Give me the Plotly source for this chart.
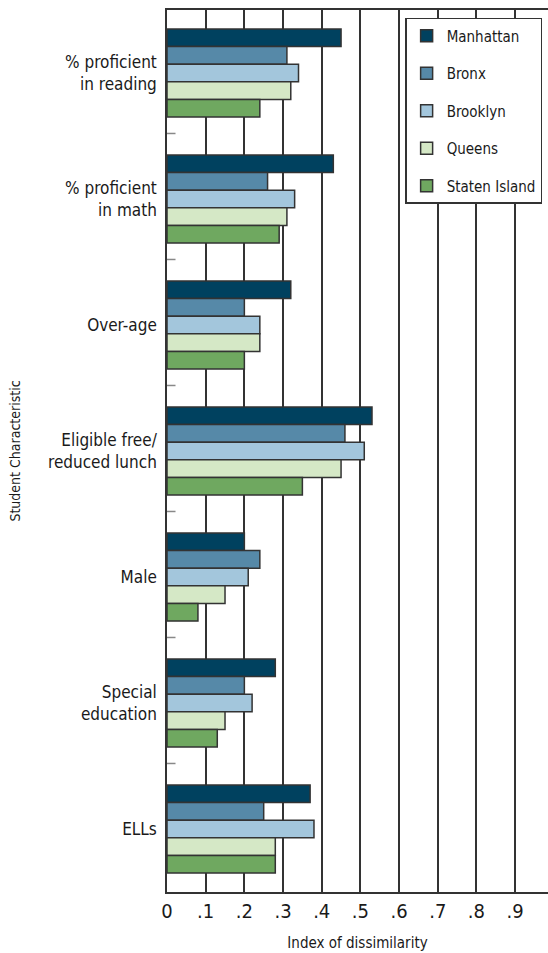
import plotly.graph_objects as go

# data
categories = ["% proficient<br>in reading", "% proficient<br>in math", "Over-age",
              "Eligible free/<br>reduced lunch", "Male", "Special<br>education", "ELLs"]
boroughs = ["Manhattan", "Bronx", "Brooklyn", "Queens", "Staten Island"]

manhattan = [0.45, 0.43, 0.32, 0.53, 0.20, 0.28, 0.37]
bronx = [0.31, 0.26, 0.20, 0.46, 0.24, 0.20, 0.25]
brooklyn = [0.34, 0.33, 0.24, 0.51, 0.21, 0.22, 0.38]
queens = [0.32, 0.31, 0.24, 0.45, 0.15, 0.15, 0.28]
staten_island = [0.24, 0.29, 0.20, 0.35, 0.08, 0.13, 0.28]

x_ticks = [0, 0.1, 0.2, 0.3, 0.4, 0.5, 0.6, 0.7, 0.8, 0.9]
x_tick_labels = ["0", ".1", ".2", ".3", ".4", ".5", ".6", ".7", ".8", ".9"]

colors = ["#00415f", "#5689a8", "#a3c6dc", "#d5e8c6", "#6fa860"]
font = "DejaVu Sans Condensed, sans-serif"

fig = go.Figure()

for i, (name, vals) in enumerate(zip(boroughs, [manhattan, bronx, brooklyn, queens, staten_island])):
    fig.add_trace(go.Bar(
        y = list(range(len(categories))),
        x = vals,
        orientation = "h",
        name = name,
        legendgroup = name,
        marker = dict(color = colors[i], line = dict(color = "#333333", width = 1.5)))
    )

fig.update_layout(
    template = "none",
    width = 548, height = 953,
    margin = dict(l = 167, r = 0, t = 10, b = 61, autoexpand = False),
    plot_bgcolor = "white", paper_bgcolor = "white",
    barmode = "group", bargap = 0.3, bargroupgap = 0,
    font = dict(family = font, color = "#1a1a1a"),
    showlegend = True,
    legend = dict(
        x = 0.625, y = 0.991, xanchor = "left", yanchor = "top",
        bgcolor = "white", bordercolor = "#333333", borderwidth = 1.5,
        font = dict(size = 15, family = font, color = "#1a1a1a"),
        tracegroupgap = 15, traceorder = "grouped",
    ),
)

fig.update_xaxes(
    automargin = False,
    range = [0, 0.985], tickvals = x_ticks, ticktext = x_tick_labels,
    tickfont = dict(size = 20, family = font, color = "#1a1a1a"),
    showgrid = True, gridcolor = "#333333", gridwidth = 1.5,
    showline = True, linecolor = "#333333", linewidth = 1.5, mirror = True,
    zeroline = False, ticks = "",
    title = dict(text = "Index of dissimilarity", font = dict(size = 15, family = font)),
)

fig.update_yaxes(
    automargin = False,
    range = [6.5, -0.5], tickvals = list(range(len(categories))), ticktext = categories,
    tickfont = dict(size = 17, family = font, color = "#1a1a1a"),
    showgrid = False, zeroline = False,
    showline = True, linecolor = "#333333", linewidth = 1.5,
    ticks = "", ticklabelstandoff = 5,
    title = dict(text = "Student Characteristic", font = dict(size = 14, family = font), standoff = 24),
)

# small boundary marks between groups
for k in range(1, len(categories)):
    fig.add_shape(type = "line", xref = "x", yref = "y", x0 = 0, x1 = 0.022,
                  y0 = k - 0.5 - 0.02, y1 = k - 0.5 - 0.02, line = dict(color = "#888888", width = 1.5))

# drop the default page margin so the figure sits at the window corner
fig.write_html("out.html", config = {"displayModeBar": False},
               post_script = "document.body.style.margin = '0';")
